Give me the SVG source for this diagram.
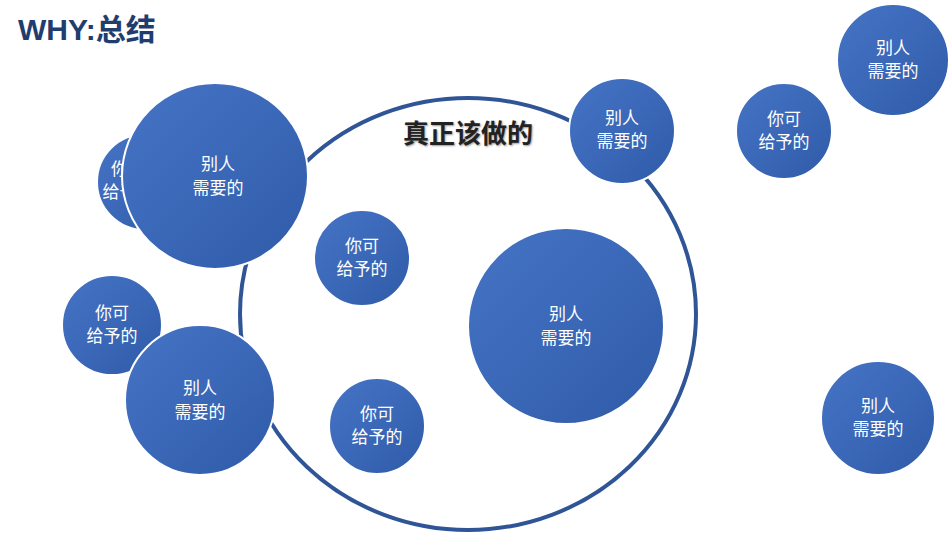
<svg xmlns="http://www.w3.org/2000/svg" width="949" height="539" viewBox="0 0 949 539">
<style>
.c{fill:url(#g);stroke:#fff;stroke-width:2}
.t{font-family:"Noto Sans CJK SC",sans-serif;fill:#fff;font-size:17px;text-anchor:middle}
</style>
<defs><linearGradient id="g" x1="0" y1="0" x2="1" y2="1"><stop offset="0" stop-color="#4674c6"/><stop offset="1" stop-color="#2f5ba8"/></linearGradient></defs>
<rect width="949" height="539" fill="#fff"/>
<text x="18" y="40" font-family="Liberation Sans,'Noto Sans CJK SC',sans-serif" font-weight="bold" font-size="30" fill="#1f3d6e">WHY:总结</text>
<g id="connectors"><ellipse cx="468" cy="314" rx="228" ry="216" fill="none" stroke="#2f5597" stroke-width="4"/></g>
<text x="468" y="143" font-family="'Noto Sans CJK SC',sans-serif" font-weight="bold" font-size="26" text-anchor="middle" fill="#222" style="text-shadow:1px 1px 2px #999">真正该做的</text>
<g id="n1"><circle class="c" cx="145" cy="182" r="48"/><text class="t" x="128" y="175">你可<tspan x="128" dy="23">给予的</tspan></text></g>
<g id="n2"><circle class="c" cx="215" cy="176" r="93"/><text class="t" x="218" y="170">别人<tspan x="218" dy="24">需要的</tspan></text></g>
<g id="n3"><circle class="c" cx="622" cy="131" r="53"/><text class="t" x="622" y="124">别人<tspan x="622" dy="23">需要的</tspan></text></g>
<g id="n4"><circle class="c" cx="784" cy="131" r="48"/><text class="t" x="784" y="125">你可<tspan x="784" dy="23">给予的</tspan></text></g>
<g id="n5"><circle class="c" cx="893" cy="60" r="56"/><text class="t" x="893" y="54">别人<tspan x="893" dy="23">需要的</tspan></text></g>
<g id="n6"><circle class="c" cx="362" cy="258" r="48"/><text class="t" x="362" y="252">你可<tspan x="362" dy="23">给予的</tspan></text></g>
<g id="n7"><circle class="c" cx="566" cy="326" r="98"/><text class="t" x="566" y="320">别人<tspan x="566" dy="24">需要的</tspan></text></g>
<g id="n8"><circle class="c" cx="112" cy="325" r="50"/><text class="t" x="112" y="319">你可<tspan x="112" dy="23">给予的</tspan></text></g>
<g id="n9"><circle class="c" cx="200" cy="400" r="75"/><text class="t" x="200" y="394">别人<tspan x="200" dy="24">需要的</tspan></text></g>
<g id="n10"><circle class="c" cx="377" cy="426" r="48"/><text class="t" x="377" y="420">你可<tspan x="377" dy="23">给予的</tspan></text></g>
<g id="n11"><circle class="c" cx="878" cy="418" r="57"/><text class="t" x="878" y="412">别人<tspan x="878" dy="23">需要的</tspan></text></g>
</svg>
